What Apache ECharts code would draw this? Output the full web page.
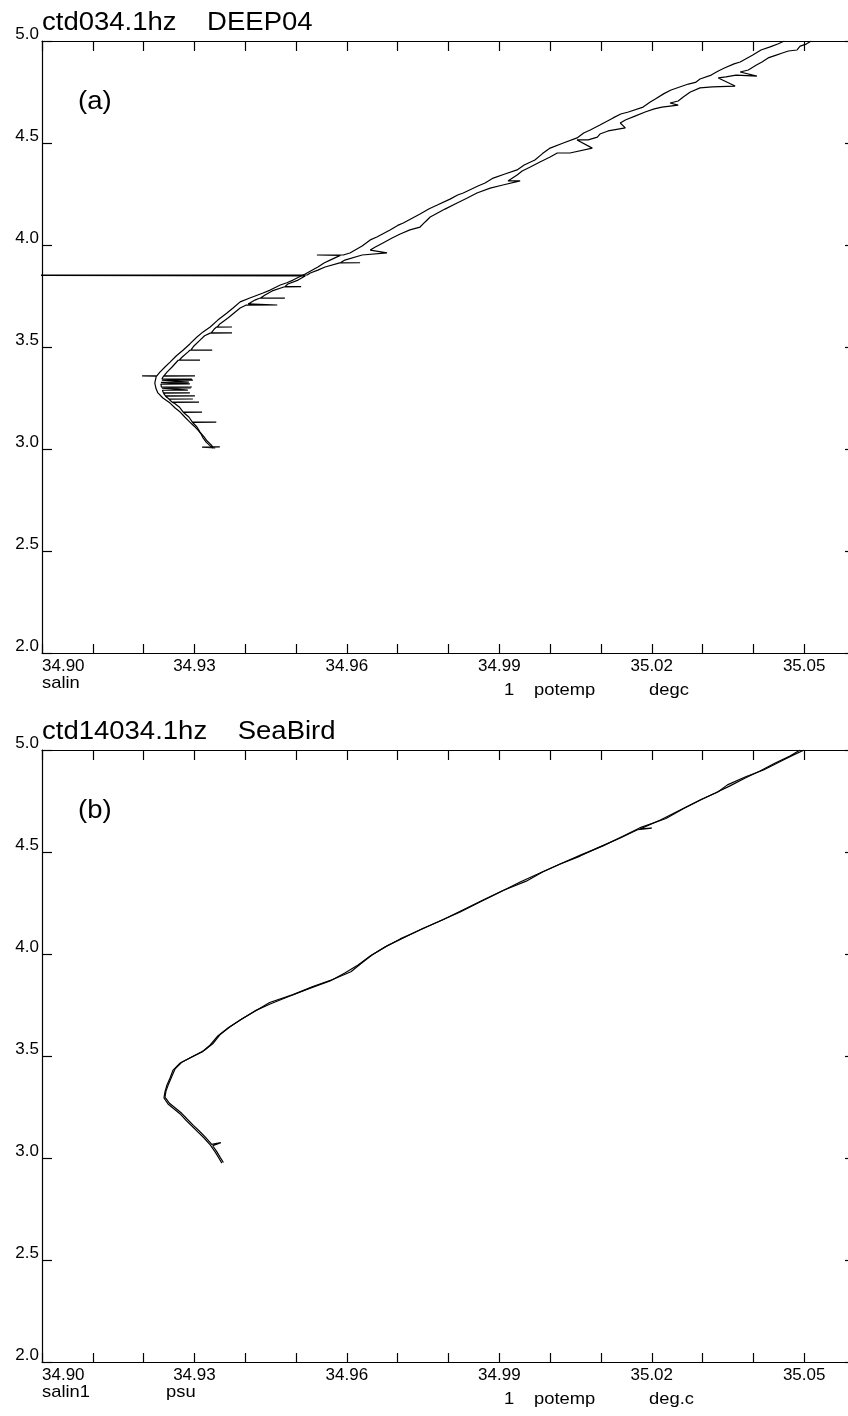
<!DOCTYPE html>
<html>
<head>
<meta charset="utf-8">
<script src="https://cdn.jsdelivr.net/npm/echarts@6/dist/echarts.min.js"></script>
<style>
  html, body { margin: 0; padding: 0; background: #fff; }
  #chart { width: 848px; height: 1416px; }
</style>
</head>
<body>
<div id="chart"></div>
<script>
// Theta-S diagrams: salinity (x) against potential temperature (y)

// tick labels
const salinLabels = ['34.90', '34.93', '34.96', '34.99', '35.02', '35.05'];
const tempLabels = ['2.0', '2.5', '3.0', '3.5', '4.0', '4.5', '5.0'];

// (a) DEEP04, first trace [salinity, potemp]
const deep04A = [
  [35.0461, 5.000], [35.0448, 4.985], [35.0433, 4.971], [35.0415, 4.956], [35.0398, 4.930],
  [35.0374, 4.897], [35.0362, 4.888], [35.0343, 4.868], [35.0330, 4.852], [35.0317, 4.833],
  [35.0295, 4.814], [35.0286, 4.797], [35.0272, 4.789], [35.0238, 4.760], [35.0224, 4.742],
  [35.0207, 4.716], [35.0197, 4.701], [35.0183, 4.676], [35.0154, 4.652], [35.0139, 4.642],
  [35.0124, 4.623], [35.0098, 4.588], [35.0079, 4.564], [35.0066, 4.549], [35.0053, 4.525],
  [35.0026, 4.500], [35.0000, 4.475], [34.9985, 4.448], [34.9970, 4.417], [34.9949, 4.392],
  [34.9935, 4.368], [34.9911, 4.348], [34.9888, 4.328], [34.9872, 4.304], [34.9858, 4.289],
  [34.9829, 4.255], [34.9818, 4.245], [34.9803, 4.225], [34.9778, 4.196], [34.9762, 4.178],
  [34.9744, 4.152], [34.9711, 4.108], [34.9700, 4.096], [34.9685, 4.074], [34.9659, 4.039],
  [34.9646, 4.025], [34.9630, 3.995], [34.9606, 3.961], [34.9593, 3.951], [34.9541, 3.951],
  [34.9587, 3.949], [34.9567, 3.926], [34.9555, 3.912], [34.9543, 3.892], [34.9518, 3.858],
  [34.9494, 3.828], [34.9482, 3.815], [34.9469, 3.804], [34.9449, 3.779], [34.9435, 3.765],
  [34.9409, 3.740], [34.9390, 3.721], [34.9376, 3.691], [34.9364, 3.667], [34.9346, 3.632],
  [34.9331, 3.598], [34.9317, 3.574], [34.9305, 3.549], [34.9291, 3.515], [34.9278, 3.485],
  [34.9264, 3.456], [34.9252, 3.426], [34.9242, 3.402], [34.9232, 3.377], [34.9226, 3.358],
  [34.9197, 3.358], [34.9225, 3.357], [34.9222, 3.324], [34.9224, 3.299], [34.9228, 3.275],
  [34.9238, 3.250], [34.9252, 3.225], [34.9262, 3.201], [34.9272, 3.181], [34.9281, 3.157],
  [34.9291, 3.132], [34.9299, 3.113], [34.9307, 3.093], [34.9313, 3.074], [34.9317, 3.054],
  [34.9323, 3.034], [34.9331, 3.015], [34.9337, 3.005]
];

// (a) DEEP04, second trace, with the salinity spikes
const deep04B = [
  [35.0514, 5.000], [35.0504, 4.985], [35.0492, 4.975], [35.0486, 4.956], [35.0469, 4.951],
  [35.0457, 4.941], [35.0445, 4.931], [35.0429, 4.917], [35.0417, 4.897], [35.0406, 4.882],
  [35.0390, 4.858], [35.0374, 4.848], [35.0407, 4.828], [35.0366, 4.833], [35.0346, 4.824],
  [35.0331, 4.819], [35.0364, 4.779], [35.0319, 4.775], [35.0295, 4.770], [35.0276, 4.750],
  [35.0262, 4.725], [35.0252, 4.706], [35.0236, 4.696], [35.0252, 4.686], [35.0220, 4.676],
  [35.0205, 4.667], [35.0187, 4.652], [35.0167, 4.632], [35.0148, 4.613], [35.0138, 4.598],
  [35.0148, 4.574], [35.0114, 4.559], [35.0098, 4.544], [35.0093, 4.529], [35.0075, 4.515],
  [35.0053, 4.515], [35.0083, 4.475], [35.0039, 4.451], [35.0014, 4.451], [35.0000, 4.431],
  [34.9980, 4.407], [34.9961, 4.382], [34.9945, 4.363], [34.9935, 4.343], [34.9917, 4.314],
  [34.9941, 4.314], [34.9907, 4.294], [34.9882, 4.279], [34.9856, 4.255], [34.9837, 4.230],
  [34.9817, 4.206], [34.9793, 4.176], [34.9764, 4.137], [34.9754, 4.113], [34.9744, 4.088],
  [34.9724, 4.074], [34.9705, 4.054], [34.9689, 4.034], [34.9671, 4.010], [34.9656, 3.990],
  [34.9646, 3.975], [34.9679, 3.961], [34.9630, 3.951], [34.9596, 3.926], [34.9588, 3.914],
  [34.9626, 3.913], [34.9586, 3.912], [34.9557, 3.892], [34.9543, 3.877], [34.9528, 3.863],
  [34.9522, 3.853], [34.8500, 3.853], [34.9518, 3.848], [34.9504, 3.828], [34.9484, 3.809],
  [34.9478, 3.796], [34.9510, 3.796], [34.9476, 3.794], [34.9453, 3.775], [34.9439, 3.755],
  [34.9430, 3.740], [34.9478, 3.740], [34.9428, 3.739], [34.9419, 3.730], [34.9406, 3.711],
  [34.9403, 3.706], [34.9463, 3.706], [34.9401, 3.705], [34.9390, 3.691], [34.9378, 3.667],
  [34.9366, 3.642], [34.9350, 3.613], [34.9345, 3.598], [34.9374, 3.598], [34.9343, 3.597],
  [34.9339, 3.588], [34.9333, 3.569], [34.9374, 3.569], [34.9331, 3.568], [34.9320, 3.555],
  [34.9311, 3.534], [34.9299, 3.505], [34.9293, 3.485], [34.9335, 3.485], [34.9291, 3.484],
  [34.9287, 3.475], [34.9276, 3.451], [34.9270, 3.436], [34.9311, 3.436], [34.9268, 3.435],
  [34.9266, 3.426], [34.9256, 3.402], [34.9246, 3.377], [34.9240, 3.358], [34.9301, 3.358],
  [34.9239, 3.357], [34.9238, 3.353], [34.9236, 3.343], [34.9295, 3.343], [34.9236, 3.342],
  [34.9236, 3.338], [34.9297, 3.338], [34.9236, 3.337], [34.9234, 3.328], [34.9289, 3.328],
  [34.9234, 3.327], [34.9234, 3.319], [34.9291, 3.319], [34.9234, 3.318], [34.9234, 3.314],
  [34.9235, 3.304], [34.9295, 3.304], [34.9235, 3.303], [34.9236, 3.299], [34.9293, 3.299],
  [34.9236, 3.298], [34.9237, 3.289], [34.9287, 3.289], [34.9237, 3.288], [34.9238, 3.284],
  [34.9239, 3.275], [34.9291, 3.275], [34.9239, 3.274], [34.9240, 3.270], [34.9243, 3.260],
  [34.9301, 3.260], [34.9243, 3.259], [34.9246, 3.255], [34.9250, 3.245], [34.9297, 3.245],
  [34.9250, 3.244], [34.9252, 3.240], [34.9256, 3.230], [34.9309, 3.230], [34.9256, 3.229],
  [34.9260, 3.225], [34.9270, 3.206], [34.9278, 3.181], [34.9315, 3.181], [34.9278, 3.180],
  [34.9289, 3.157], [34.9296, 3.132], [34.9343, 3.132], [34.9296, 3.131], [34.9305, 3.108],
  [34.9311, 3.083], [34.9319, 3.059], [34.9325, 3.039], [34.9333, 3.020], [34.9336, 3.010],
  [34.9350, 3.010], [34.9315, 3.009], [34.9341, 3.005]
];

// (b) SeaBird, first trace
const seabirdA = [
  [35.0492, 5.000], [35.0472, 4.971], [35.0443, 4.936], [35.0413, 4.897], [35.0384, 4.863],
  [35.0354, 4.824], [35.0325, 4.789], [35.0295, 4.755], [35.0256, 4.706], [35.0217, 4.657],
  [35.0177, 4.613], [35.0200, 4.617], [35.0172, 4.609], [35.0138, 4.569], [35.0098, 4.525],
  [35.0059, 4.480], [35.0020, 4.441], [34.9980, 4.397], [34.9941, 4.353], [34.9902, 4.304],
  [34.9862, 4.255], [34.9823, 4.206], [34.9783, 4.162], [34.9744, 4.118], [34.9705, 4.074],
  [34.9675, 4.034], [34.9646, 3.990], [34.9622, 3.946], [34.9596, 3.907], [34.9567, 3.868],
  [34.9528, 3.833], [34.9488, 3.794], [34.9449, 3.755], [34.9419, 3.721], [34.9390, 3.676],
  [34.9366, 3.637], [34.9346, 3.598], [34.9331, 3.554], [34.9315, 3.520], [34.9295, 3.495],
  [34.9272, 3.466], [34.9258, 3.431], [34.9252, 3.392], [34.9246, 3.358], [34.9242, 3.324],
  [34.9240, 3.294], [34.9248, 3.265], [34.9260, 3.240], [34.9272, 3.216], [34.9283, 3.186],
  [34.9295, 3.157], [34.9307, 3.127], [34.9319, 3.098], [34.9331, 3.064], [34.9341, 3.029],
  [34.9348, 3.000], [34.9354, 2.975]
];

// (b) SeaBird, second trace
const seabirdB = [
  [35.0500, 5.000], [35.0478, 4.975], [35.0455, 4.946], [35.0420, 4.902], [35.0386, 4.870],
  [35.0349, 4.829], [35.0330, 4.794], [35.0300, 4.760], [35.0262, 4.712], [35.0228, 4.664],
  [35.0176, 4.618], [35.0141, 4.575], [35.0104, 4.530], [35.0062, 4.487], [35.0024, 4.446],
  [34.9986, 4.403], [34.9953, 4.357], [34.9906, 4.310], [34.9866, 4.262], [34.9826, 4.213],
  [34.9789, 4.168], [34.9748, 4.124], [34.9712, 4.080], [34.9680, 4.041], [34.9650, 3.996],
  [34.9628, 3.953], [34.9608, 3.913], [34.9572, 3.875], [34.9533, 3.840], [34.9494, 3.801],
  [34.9448, 3.762], [34.9424, 3.727], [34.9394, 3.683], [34.9370, 3.643], [34.9350, 3.604],
  [34.9336, 3.560], [34.9319, 3.527], [34.9299, 3.501], [34.9276, 3.471], [34.9262, 3.437],
  [34.9255, 3.397], [34.9249, 3.362], [34.9244, 3.328], [34.9242, 3.298], [34.9251, 3.268],
  [34.9263, 3.244], [34.9275, 3.219], [34.9286, 3.190], [34.9298, 3.160], [34.9310, 3.131],
  [34.9322, 3.101], [34.9334, 3.067], [34.9352, 3.075], [34.9336, 3.060], [34.9344, 3.031],
  [34.9351, 3.002], [34.9357, 2.978]
];

const FONT = "'Liberation Sans', Arial, Helvetica, sans-serif";
const INK = '#000';

const panels = [
  { top: 41, title: 'ctd034.1hz    DEEP04', tag: '(a)',
    xName: 'salin', xUnit: '', yName: 'potemp', yUnit: 'degc', traces: [deep04A, deep04B] },
  { top: 750, title: 'ctd14034.1hz    SeaBird', tag: '(b)',
    xName: 'salin1', xUnit: 'psu', yName: 'potemp', yUnit: 'deg.c', traces: [seabirdA, seabirdB] }
];

const GRID_LEFT = 42, GRID_W = 813, GRID_H = 612;

const grids = [], xAxes = [], yAxes = [], series = [], graphics = [];

function salinFormatter(v) {
  const s = v.toFixed(2);
  return salinLabels.indexOf(s) >= 0 ? s : '';
}
function tempFormatter(v) {
  const s = v.toFixed(1);
  return tempLabels.indexOf(s) >= 0 ? s : '';
}

panels.forEach((p, i) => {
  grids.push({ left: GRID_LEFT, top: p.top, width: GRID_W, height: GRID_H,
    containLabel: false, outerBoundsMode: 'none' });

  const xBase = {
    gridIndex: i, type: 'value', min: 34.90, max: 35.06, interval: 0.01,
    splitLine: { show: false },
    axisLine: { onZero: false, lineStyle: { color: INK, width: 1.2 } },
    axisTick: { inside: true, length: 9, lineStyle: { color: INK, width: 1.2 } }
  };
  xAxes.push(Object.assign({}, xBase, {
    position: 'bottom',
    axisLabel: { formatter: salinFormatter, color: INK, fontFamily: FONT, fontSize: 17,
      margin: 5, alignMinLabel: 'left', showMaxLabel: false }
  }));
  xAxes.push(Object.assign({}, xBase, {
    position: 'top', axisLabel: { show: false },
    axisTick: { inside: true, length: 10, lineStyle: { color: INK, width: 1.2 } }
  }));

  const yBase = {
    gridIndex: i, type: 'value', min: 2, max: 5, interval: 0.5,
    splitLine: { show: false },
    axisLine: { onZero: false, lineStyle: { color: INK, width: 1.2 } },
    axisTick: { inside: true, length: 10, lineStyle: { color: INK, width: 1.2 } }
  };
  yAxes.push(Object.assign({}, yBase, {
    position: 'left',
    axisLabel: { formatter: tempFormatter, color: INK, fontFamily: FONT, fontSize: 17,
      margin: 3, verticalAlign: 'bottom', lineHeight: 14 }
  }));
  yAxes.push(Object.assign({}, yBase, { position: 'right', axisLabel: { show: false } }));

  p.traces.forEach(tr => {
    series.push({
      type: 'line', xAxisIndex: i * 2, yAxisIndex: i * 2, data: tr,
      symbol: 'none', showSymbol: false, clip: true, silent: true,
      lineStyle: { color: INK, width: 1.2 }
    });
  });

  const off = p.top - 41;
  const txt = (x, y, s, size, sx) => ({
    type: 'text', x: x, y: y + off, scaleX: sx || 1, silent: true,
    style: { text: s, fill: INK, font: size + 'px ' + FONT, verticalAlign: 'middle',
      textVerticalAlign: 'middle' }
  });
  graphics.push(txt(42, 23, p.title, 25, 1.1));
  graphics.push(txt(78, 102, p.tag, 25, 1.1));
  graphics.push(txt(42, 683, p.xName, 17, 1.08));
  if (p.xUnit) graphics.push(txt(166, 683, p.xUnit, 17, 1.08));
  graphics.push(txt(504, 690, '1', 17, 1.08));
  graphics.push(txt(534, 690, p.yName, 17, 1.08));
  graphics.push(txt(649, 690, p.yUnit, 17, 1.08));
});

const chart = echarts.init(document.getElementById('chart'), null, { renderer: 'canvas' });
chart.setOption({
  backgroundColor: '#fff',
  animation: false,
  grid: grids,
  xAxis: xAxes,
  yAxis: yAxes,
  series: series,
  graphic: graphics
});
</script>
</body>
</html>
